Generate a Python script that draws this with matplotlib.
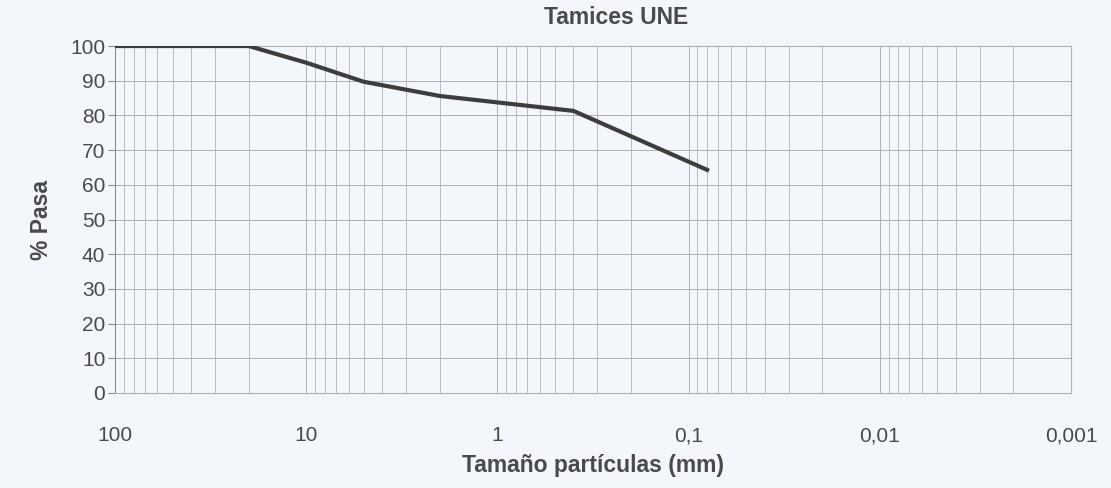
import matplotlib.pyplot as plt
from matplotlib.ticker import FixedLocator, LogLocator, NullFormatter

plt.rcParams['font.family'] = ['Liberation Sans', 'DejaVu Sans']

# UNE sieve sizes (mm) and percentage passing
sieve_mm = [100, 20, 10, 5, 2, 0.4, 0.08]
passing = [100, 100, 95.2, 89.7, 85.6, 81.3, 64.3]

x_ticks = [100, 10, 1, 0.1, 0.01, 0.001]
x_tick_labels = ["100", "10", "1", "0,1", "0,01", "0,001"]
y_ticks = [0, 10, 20, 30, 40, 50, 60, 70, 80, 90, 100]

bg = "#f3f6fb"
grid_col = "#adb1b7"
text_col = "#4a4a4a"

fig = plt.figure(figsize=(11.11, 4.88), dpi=100, facecolor=bg)
ax = fig.add_axes([0.1035, 0.1947, 0.8605, 0.711])
ax.set_facecolor(bg)

ax.plot(sieve_mm, passing, color="#3d3d3d", linewidth=3, solid_joinstyle="round", zorder=3)

ax.set_xscale("log")
ax.set_xlim(100, 0.001)
ax.set_ylim(0, 100)

ax.xaxis.set_major_locator(FixedLocator(x_ticks))
ax.set_xticklabels(x_tick_labels)
ax.xaxis.set_minor_locator(LogLocator(base=10, subs=range(2, 10)))
ax.xaxis.set_minor_formatter(NullFormatter())
ax.set_yticks(y_ticks)

ax.grid(True, which="major", color=grid_col, linewidth=0.7)
ax.grid(True, which="minor", axis="x", color=grid_col, linewidth=0.6)
for s in ax.spines.values():
    s.set_color(grid_col)
    s.set_linewidth(0.8)
ax.spines["left"].set_color("#8a8e94")

ax.tick_params(axis="x", which="both", length=0, pad=24, labelsize=15, labelcolor=text_col)
ax.tick_params(axis="y", length=5, color="#8a8e94", pad=2, labelsize=15, labelcolor=text_col)

ax.set_xlabel("Tamaño partículas (mm)", fontsize=16.5, fontweight="bold", color=text_col, labelpad=6)
ax.set_ylabel("% Pasa", fontsize=16.5, fontweight="bold", color=text_col, labelpad=12)
fig.text(0.555, 0.965, "Tamices UNE", ha="center", va="center", fontsize=16.5,
         fontweight="bold", color=text_col)

fig.savefig("out.png", dpi=100, facecolor=bg)
